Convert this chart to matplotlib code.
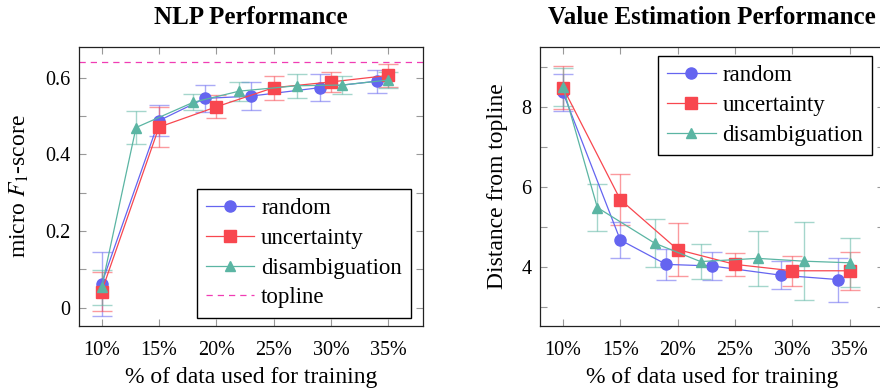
import matplotlib
matplotlib.use("Agg")
import matplotlib.pyplot as plt
from matplotlib.ticker import FixedLocator, FuncFormatter

plt.rcParams['font.family'] = ['Liberation Serif', 'DejaVu Serif']
plt.rcParams['mathtext.fontset'] = 'stix'

# ---- data ----
x_random = [10, 15, 19, 23, 29, 34]
x_uncert = [10, 15, 20, 25, 30, 35]
x_disamb = [10, 13, 18, 22, 27, 31, 35]

nlp_random = [0.062, 0.488, 0.546, 0.552, 0.574, 0.591]
nlp_random_err = [0.083, 0.040, 0.035, 0.036, 0.036, 0.030]
nlp_uncert = [0.042, 0.471, 0.524, 0.574, 0.589, 0.606]
nlp_uncert_err = [0.052, 0.052, 0.030, 0.031, 0.026, 0.030]
nlp_disamb = [0.053, 0.470, 0.536, 0.565, 0.579, 0.581, 0.594]
nlp_disamb_err = [0.045, 0.042, 0.021, 0.025, 0.031, 0.023, 0.022]
nlp_topline = 0.64

val_random = [8.36, 4.67, 4.06, 4.02, 3.79, 3.68]
val_random_err = [0.47, 0.45, 0.38, 0.35, 0.35, 0.55]
val_uncert = [8.48, 5.68, 4.43, 4.06, 3.90, 3.90]
val_uncert_err = [0.53, 0.63, 0.66, 0.29, 0.37, 0.47]
val_disamb = [8.50, 5.48, 4.59, 4.13, 4.21, 4.14, 4.10]
val_disamb_err = [0.48, 0.58, 0.60, 0.43, 0.69, 0.97, 0.61]

xticks = [10, 15, 20, 25, 30, 35]
xticklabels = ['10%', '15%', '20%', '25%', '30%', '35%']

C_BLUE = '#6565f0'
C_RED = '#f8474f'
C_TEAL = '#5bb5a3'
C_TOP = '#f03cb4'

fig = plt.figure(figsize=(8.8, 3.91), dpi=100)
ax1 = fig.add_axes([78.7/880, 1-326/391, 344/880, (326-46.7)/391])
ax2 = fig.add_axes([540/880, 1-326/391, 344/880, (326-46.7)/391])

FS_TICK = 14.5
FS_LAB = 17
FS_LEG = 16.5
FS_TITLE = 18


def series(ax, x, y, e, color, marker, ms, label):
    ax.errorbar(x, y, yerr=e, fmt='none', ecolor=color, alpha=0.55,
                elinewidth=1.0, capsize=7, capthick=1.0, zorder=2)
    ax.plot(x, y, color=color, lw=0.9, marker=marker, ms=ms, mfc=color,
            mec=color, label=label, zorder=3)


def style(ax, ylim, major, minor, title, ylabel):
    ax.set_xlim(8, 38)
    ax.set_ylim(*ylim)
    ax.set_xticks(xticks)
    ax.set_xticklabels(xticklabels)
    ax.yaxis.set_major_locator(FixedLocator(major))
    ax.yaxis.set_minor_locator(FixedLocator(minor))
    ax.tick_params(axis='both', which='both', direction='in', length=5,
                   color='#999999', width=0.8, top=True, right=True,
                   labelsize=FS_TICK)
    ax.tick_params(axis='x', which='both', pad=11)
    ax.tick_params(axis='y', which='both', pad=6)
    for s in ax.spines.values():
        s.set_linewidth(0.9)
        s.set_color('#222222')
    ax.set_title(title, fontsize=FS_TITLE, fontweight='bold', pad=16.5)
    ax.set_xlabel('% of data used for training', fontsize=FS_LAB, labelpad=5)
    ax.set_ylabel(ylabel, fontsize=FS_LAB, labelpad=10)


def legend(ax, **kw):
    ax.legend(fontsize=FS_LEG, frameon=True, fancybox=False,
              edgecolor='black', framealpha=1, borderpad=0.4,
              handlelength=2.1, handletextpad=0.3, labelspacing=0.38,
              borderaxespad=0, **kw)


series(ax1, x_random, nlp_random, nlp_random_err, C_BLUE, 'o', 8, 'random')
series(ax1, x_uncert, nlp_uncert, nlp_uncert_err, C_RED, 's', 8, 'uncertainty')
series(ax1, x_disamb, nlp_disamb, nlp_disamb_err, C_TEAL, '^', 7.5, 'disambiguation')
ax1.axhline(nlp_topline, color=C_TOP, lw=0.9, ls=(0, (5, 4)), label='topline', zorder=1)
style(ax1, (-0.048, 0.681), [0, 0.2, 0.4, 0.6], [0.1, 0.3, 0.5],
      'NLP Performance', 'micro $F_1$-score')
ax1.yaxis.set_major_formatter(FuncFormatter(lambda v, p: '0' if v == 0 else f'{v:.1f}'))
legend(ax1, loc='lower right', bbox_to_anchor=(0.966, 0.03))

series(ax2, x_random, val_random, val_random_err, C_BLUE, 'o', 8, 'random')
series(ax2, x_uncert, val_uncert, val_uncert_err, C_RED, 's', 8, 'uncertainty')
series(ax2, x_disamb, val_disamb, val_disamb_err, C_TEAL, '^', 7.5, 'disambiguation')
style(ax2, (2.52, 9.5), [4, 6, 8], [3, 5, 7, 9],
      'Value Estimation Performance', 'Distance from topline')
legend(ax2, loc='upper right', bbox_to_anchor=(0.966, 0.967))

fig.savefig('out.png', dpi=100)
